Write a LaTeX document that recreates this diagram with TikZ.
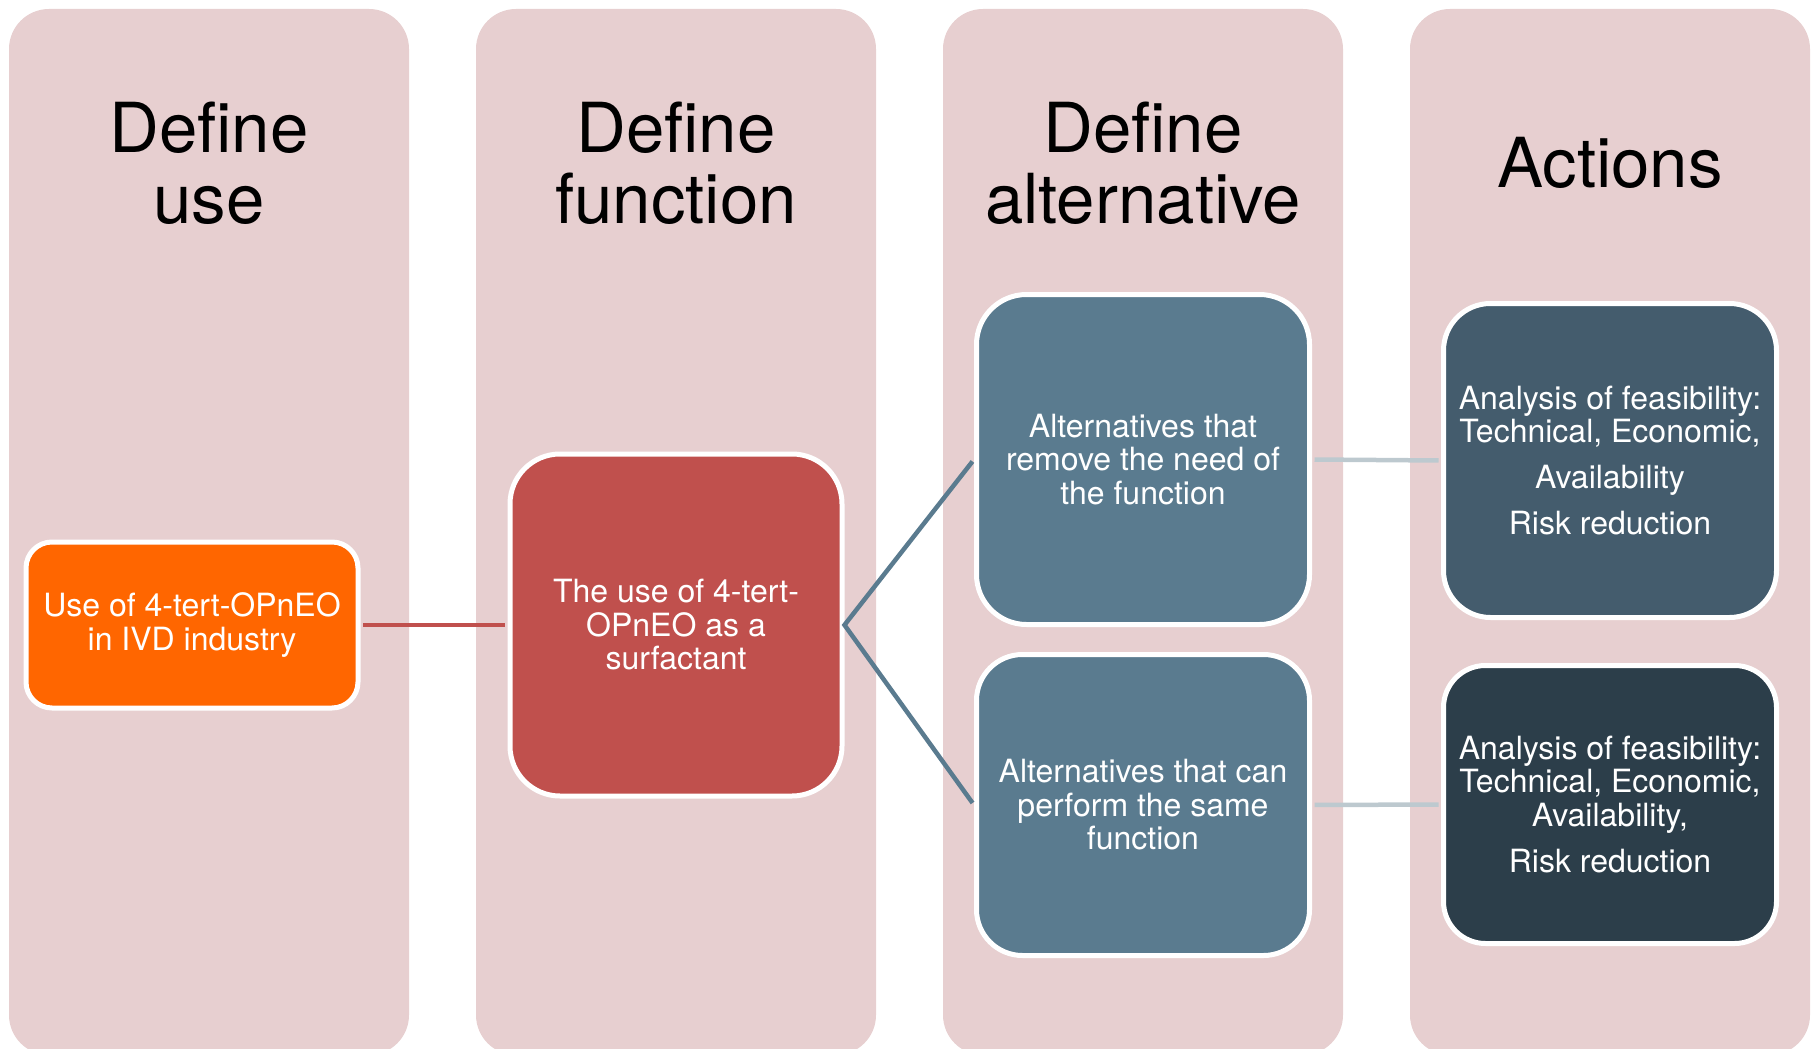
\documentclass[tikz,border=0pt]{standalone}
\usepackage{fontspec}
\setmainfont{TeX Gyre Heros}
\definecolor{colbg}{HTML}{E7CFD0}
\definecolor{useorange}{HTML}{FF6600}
\definecolor{funcred}{HTML}{C0504D}
\definecolor{altblue}{HTML}{5A7B8F}
\definecolor{actslate}{HTML}{445C6D}
\definecolor{actdark}{HTML}{2C3E4A}
\definecolor{linkgray}{HTML}{BDC9CF}
\begin{document}
\begin{tikzpicture}[x=1pt, y=-1pt,
    column/.style={fill=colbg, rounded corners=40pt},
    heading/.style={align=center, font=\fontsize{69}{71}\selectfont},
    box/.style={draw=white, line width=5pt, text=white, align=center,
        font=\fontsize{32}{33.5}\selectfont, minimum width=333pt, inner sep=0pt},
    link/.style={line width=4.5pt, shorten <=2.5pt, shorten >=2.5pt}]

    \useasboundingbox (0,0) rectangle (1816,1049);
    \clip (0,0) rectangle (1816,1049);

    \foreach \x in {9,476,943,1410}
        \fill[column] (\x,9) rectangle ++(400,1046);

    \node[heading] (hUse) at (209,163) {Define\\use};
    \node[heading] (hFunc) at (676,163) {Define\\function};
    \node[heading] (hAlt) at (1143,163) {Define\\alternative};
    \node[heading] (hAct) at (1610,163) {Actions};

    \node[box, fill=useorange, minimum width=332pt, minimum height=166pt, rounded corners=26pt]
        (use) at (192,625) {Use of 4-tert-OPnEO\\in IVD industry};
    \node[box, fill=funcred, minimum width=332pt, minimum height=342pt, rounded corners=50pt]
        (func) at (676,625) {The use of 4-tert-\\OPnEO as a\\surfactant};
    \node[box, fill=altblue, minimum height=330pt, rounded corners=50pt]
        (remove) at (1143,459.5) {Alternatives that\\remove the need of\\the function};
    \node[box, fill=altblue, minimum height=301pt, rounded corners=46pt]
        (same) at (1143,805) {Alternatives that can\\perform the same\\function};
    \node[box, fill=actslate, minimum height=314pt, rounded corners=47pt]
        (act1) at (1610,460.5) {Analysis of feasibility:\\Technical, Economic,\\[12.5pt]Availability\\[12.5pt]Risk reduction};
    \node[box, fill=actdark, minimum height=278pt, rounded corners=42pt]
        (act2) at (1610,804.5) {Analysis of feasibility:\\Technical, Economic,\\Availability,\\[12.5pt]Risk reduction};

    \draw[link, funcred] (use) -- (func);
    \draw[link, altblue] (remove.west) -- (func.east) -- (same.west);
    \draw[link, linkgray] (remove.east) -- (act1.west);
    \draw[link, linkgray] (same.east) -- (act2.west);
\end{tikzpicture}
\end{document}
